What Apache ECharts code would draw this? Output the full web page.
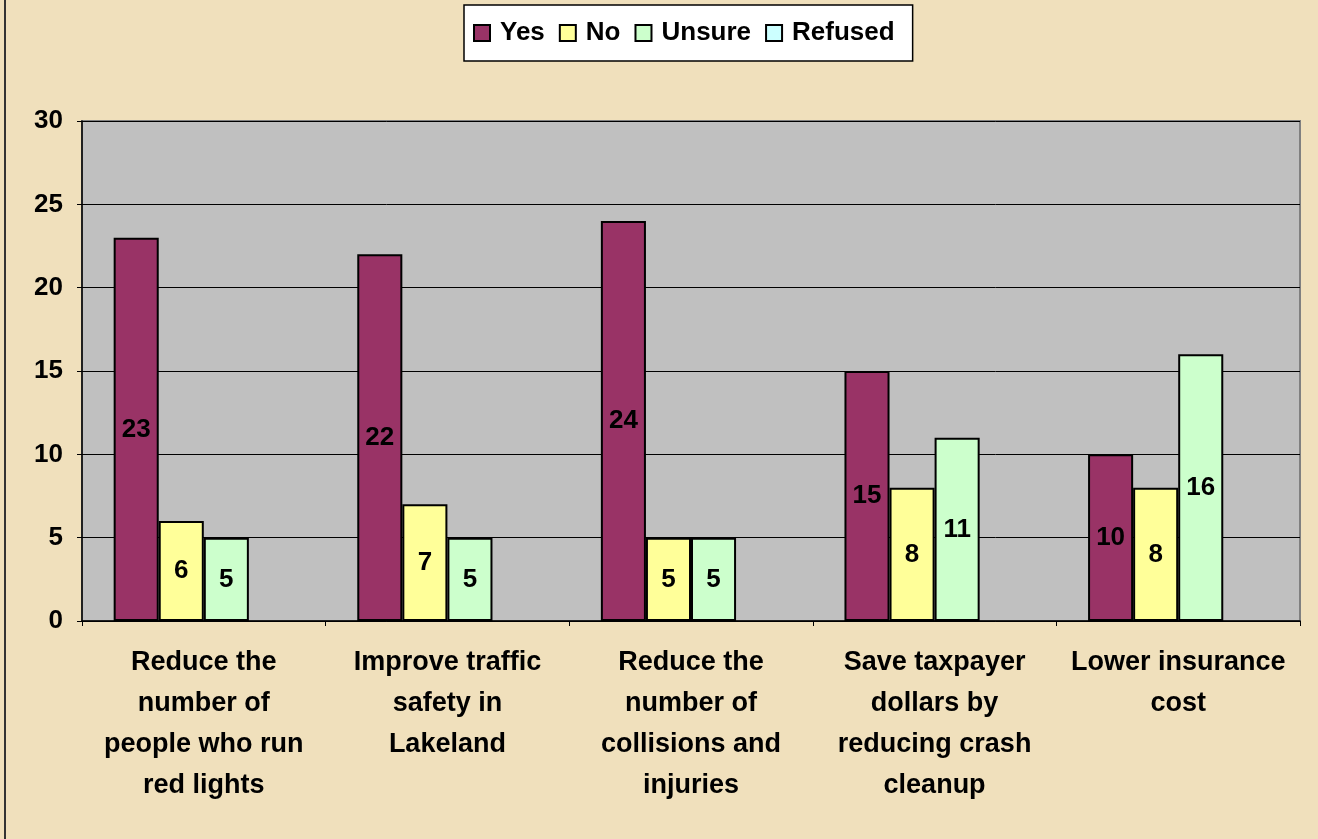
<!DOCTYPE html>
<html>
<head>
<meta charset="utf-8">
<script src="https://cdn.jsdelivr.net/npm/echarts@6/dist/echarts.min.js"></script>
<style>
html,body{margin:0;padding:0;background:#F0E0BC;}
#chart{width:1318px;height:839px;}
</style>
</head>
<body>
<div id="chart"></div>
<script>
const categories = [
  "Reduce the\nnumber of\npeople who run\nred lights",
  "Improve traffic\nsafety in\nLakeland",
  "Reduce the\nnumber of\ncollisions and\ninjuries",
  "Save taxpayer\ndollars by\nreducing crash\ncleanup",
  "Lower insurance\ncost"
];
const yesValues = [23, 22, 24, 15, 10];
const noValues = [6, 7, 5, 8, 8];
const unsureValues = [5, 5, 5, 11, 16];
const refusedValues = [null, null, null, null, null];
const yTicks = { min: 0, max: 30, interval: 5 };

const font = '"Liberation Sans", Arial, sans-serif';
const labelStyle = {
  show: true, position: 'inside', color: '#000', fontSize: 26,
  fontWeight: 'bold', fontFamily: font
};
function mk(name, data, color) {
  return {
    name: name, type: 'bar', data: data,
    barGap: '0%', barCategoryGap: '26%',
    itemStyle: { color: color, borderColor: '#000', borderWidth: 2 },
    label: labelStyle
  };
}
const chart = echarts.init(document.getElementById('chart'));
chart.setOption({
  backgroundColor: '#F0E0BC',
  animation: false,
  graphic: [{ type: 'rect', shape: { x: 4, y: 0, width: 2, height: 839 }, style: { fill: '#333' } }],
  legend: {
    left: 464, top: 5, icon: 'rect',
    padding: [15, 18, 15, 9],
    backgroundColor: '#fff', borderColor: '#000', borderWidth: 1.5,
    itemWidth: 16, itemHeight: 16, itemGap: 14,
    textStyle: { fontSize: 26, fontWeight: 'bold', fontFamily: font, color: '#000', padding: [0, 0, 0, 5] },
    itemStyle: { borderColor: '#000', borderWidth: 2 },
    data: ['Yes', 'No', 'Unsure', 'Refused']
  },
  grid: {
    left: 82, right: 18, top: 121, bottom: 218,
    show: true, backgroundColor: '#C0C0C0', borderColor: '#808080', borderWidth: 2
  },
  xAxis: {
    type: 'category', data: categories,
    axisLine: { lineStyle: { color: '#000', width: 1.5 } },
    axisTick: { show: true, length: 5, lineStyle: { color: '#000' } },
    axisLabel: {
      interval: 0, margin: 21, lineHeight: 41, fontSize: 27, fontWeight: 'bold',
      fontFamily: font, color: '#000', align: 'center'
    }
  },
  yAxis: {
    type: 'value', min: yTicks.min, max: yTicks.max, interval: yTicks.interval,
    axisLine: { show: true, lineStyle: { color: '#000', width: 1.5 } },
    axisTick: { show: true, length: 5, lineStyle: { color: '#000' } },
    splitLine: { lineStyle: { color: '#000', width: 1 } },
    axisLabel: { margin: 19, fontSize: 26, fontWeight: 'bold', fontFamily: font, color: '#000' }
  },
  series: [
    mk('Yes', yesValues, '#993366'),
    mk('No', noValues, '#FFFF99'),
    mk('Unsure', unsureValues, '#CCFFCC'),
    mk('Refused', refusedValues, '#CCFFFF')
  ]
});
</script>
</body>
</html>
